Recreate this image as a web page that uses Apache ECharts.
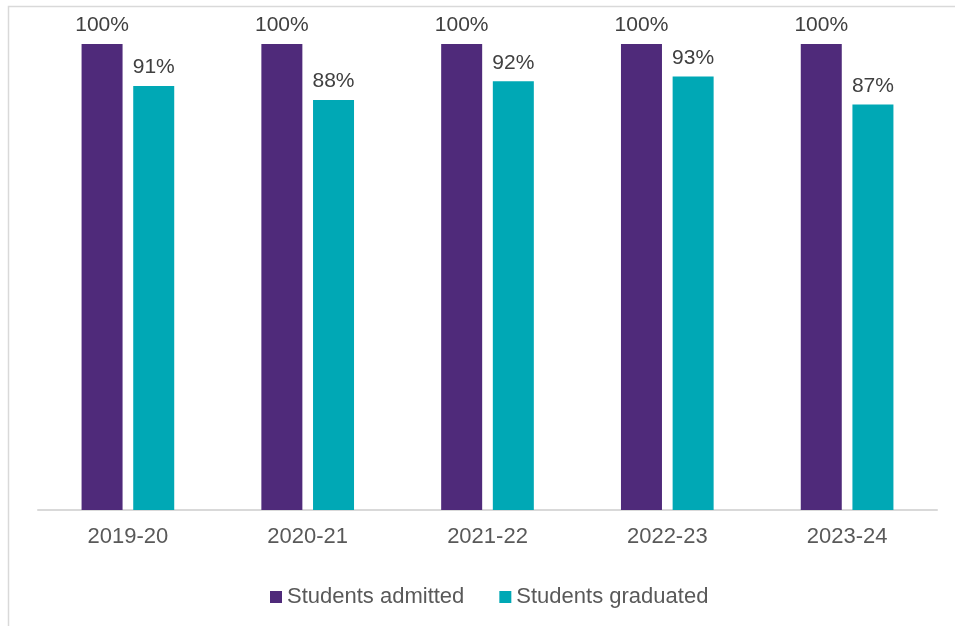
<!DOCTYPE html>
<html>
<head>
<meta charset="utf-8">
<script src="https://cdn.jsdelivr.net/npm/echarts@6/dist/echarts.min.js"></script>
<style>
  html, body { margin: 0; padding: 0; background: #fff; }
  #chart { width: 955px; height: 626px; }
</style>
</head>
<body>
<div id="chart"></div>
<script>
// Academic years shown on the category axis
const years = ['2019-20', '2020-21', '2021-22', '2022-23', '2023-24'];
// Percentage of the cohort admitted and graduated per year
const admitted = [100, 100, 100, 100, 100];
const graduated = [91, 88, 92, 93, 87];
const seriesNames = ['Students admitted', 'Students graduated'];

const chart = echarts.init(document.getElementById('chart'), null, { renderer: 'canvas' });

const FONT = 'Liberation Sans, Arial, sans-serif';

const labelStyle = {
  show: true,
  position: 'top',
  distance: 8,
  formatter: p => p.value + '%',
  fontFamily: FONT,
  fontSize: 21,
  color: '#404040'
};

chart.setOption({
  animation: false,
  graphic: [{
    type: 'rect',
    shape: { x: 8.5, y: 6.5, width: 1000, height: 1000 },
    style: { fill: 'none', stroke: '#d9d9d9', lineWidth: 1.5 },
    silent: true
  }],
  grid: { left: 38, right: 18, top: 44, bottom: 116 },
  legend: {
    data: seriesNames,
    top: 581,
    left: 265,
    icon: 'rect',
    itemWidth: 12,
    itemHeight: 12,
    itemGap: 35,
    textStyle: {
      fontFamily: FONT,
      fontSize: 22,
      color: '#595959'
    }
  },
  xAxis: {
    type: 'category',
    data: years,
    axisLine: { lineStyle: { color: '#d9d9d9', width: 2 } },
    axisTick: { show: false },
    axisLabel: {
      margin: 16,
      fontFamily: FONT,
      fontSize: 22,
      color: '#595959'
    }
  },
  yAxis: {
    type: 'value',
    min: 0,
    max: 100,
    show: false,
    splitLine: { show: false }
  },
  series: [
    {
      name: seriesNames[0],
      type: 'bar',
      data: admitted,
      barWidth: 41,
      barGap: '26%',
      itemStyle: { color: '#4F2A7A' },
      label: labelStyle
    },
    {
      name: seriesNames[1],
      type: 'bar',
      data: graduated,
      barWidth: 41,
      itemStyle: { color: '#00A8B5' },
      label: labelStyle
    }
  ]
});
</script>
</body>
</html>
